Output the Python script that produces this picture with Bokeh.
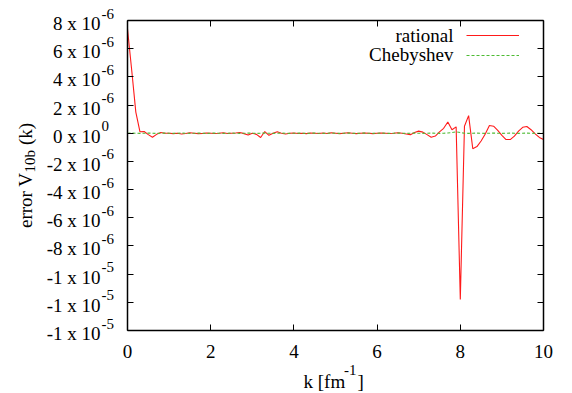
import math
from bokeh.plotting import figure
from bokeh.models import (Range1d, LinearAxis, FixedTicker, Label, Legend,
                          LegendItem, ColumnDataSource)
from bokeh.embed import file_html
from bokeh.resources import INLINE

# ---------------- data ----------------
k = [0.0, 0.1, 0.2, 0.3, 0.4, 0.5, 0.6, 0.7, 0.8, 0.9,
     1.0, 1.1, 1.2, 1.3, 1.4, 1.5, 1.6, 1.7, 1.8, 1.9,
     2.0, 2.1, 2.2, 2.3, 2.4, 2.5, 2.6, 2.7, 2.8, 2.9,
     3.0, 3.1, 3.2, 3.3, 3.4, 3.5, 3.6, 3.7, 3.8, 3.9,
     4.0, 4.1, 4.2, 4.3, 4.4, 4.5, 4.6, 4.7, 4.8, 4.9,
     5.0, 5.1, 5.2, 5.3, 5.4, 5.5, 5.6, 5.7, 5.8, 5.9,
     6.0, 6.1, 6.2, 6.3, 6.4, 6.5, 6.6, 6.7, 6.8, 6.9,
     7.0, 7.1, 7.2, 7.3, 7.4, 7.5, 7.6, 7.7, 7.8, 7.9,
     8.0, 8.1, 8.2, 8.3, 8.4, 8.5, 8.6, 8.7, 8.8, 8.9,
     9.0, 9.1, 9.2, 9.3, 9.4, 9.5, 9.6, 9.7, 9.8, 9.9,
     10.0]

# error values in units of 1e-6
rational_e6 = [7.4, 4.5, 1.5, 0.1, 0.12, -0.1, -0.28, -0.08, 0.05, 0.0,
               0.0, -0.03, 0.0, -0.05, -0.02, 0.03, 0.0, -0.03, -0.02, 0.02,
               0.0, -0.02, 0.0, 0.03, -0.02, 0.0, 0.02, 0.05, -0.03, -0.12,
               0.0, -0.08, -0.3, 0.12, -0.15, 0.0, 0.1, 0.0, -0.05, 0.0,
               0.02, -0.02, 0.0, -0.03, 0.02, 0.0, -0.02, 0.02, -0.02, 0.03,
               0.0, -0.03, 0.0, 0.03, 0.0, -0.03, 0.0, 0.02, 0.0, -0.03,
               0.0, 0.02, 0.0, -0.02, 0.0, 0.03, 0.0, -0.05, -0.1, 0.05,
               0.15, 0.08, -0.1, -0.28, -0.2, 0.1, 0.35, 0.8, 0.25, 0.45,
               -11.8, 0.5, 1.25, -1.1, -0.95, -0.55, -0.05, 0.55, 0.5, 0.2,
               -0.15, -0.45, -0.45, -0.2, 0.15, 0.42, 0.48, 0.25, -0.05, -0.3,
               -0.45]

chebyshev_e6 = [0.0, 0.01, 0.0, -0.01, 0.0, 0.01, 0.0, -0.01, 0.0, 0.01,
                0.0, -0.01, 0.0, 0.01, 0.0, -0.01, 0.0, 0.01, 0.0, -0.01,
                0.0, 0.01, 0.0, -0.01, 0.0, 0.01, 0.0, -0.01, 0.0, 0.01,
                0.0, -0.01, 0.0, 0.01, 0.0, -0.01, 0.0, 0.01, 0.0, -0.01,
                0.0, 0.01, 0.0, -0.01, 0.0, 0.01, 0.0, -0.01, 0.0, 0.01,
                0.0, -0.01, 0.0, 0.01, 0.0, -0.01, 0.0, 0.01, 0.0, -0.01,
                0.0, 0.01, 0.0, -0.01, 0.0, 0.01, 0.0, -0.01, 0.0, 0.01,
                0.0, -0.01, 0.0, 0.01, 0.0, -0.01, 0.0, 0.02, 0.05, 0.1,
                0.05, 0.0, -0.01, 0.0, 0.01, 0.0, -0.01, 0.0, 0.01, 0.0,
                -0.01, 0.0, 0.01, 0.0, -0.01, 0.0, 0.01, 0.0, -0.01, 0.0,
                0.0]

x_ticks = [0, 2, 4, 6, 8, 10]
x_tick_labels = ["0", "2", "4", "6", "8", "10"]
y_ticks = [8e-6, 6e-6, 4e-6, 2e-6, 0.0, -2e-6, -4e-6, -6e-6, -8e-6,
           -1e-5, -1.2e-5, -1.4e-5]
y_tick_mant = ["8 x 10", "6 x 10", "4 x 10", "2 x 10", "0 x 10", "-2 x 10",
               "-4 x 10", "-6 x 10", "-8 x 10", "-1 x 10", "-1 x 10", "-1 x 10"]
y_tick_exp = ["-6", "-6", "-6", "-6", "0", "-6", "-6", "-6", "-6",
              "-5", "-5", "-5"]

series_names = ["rational", "Chebyshev"]

# ---------------- layout ----------------
W, H = 572, 393
FL, FR, FT, FB = 127, 543, 20, 330   # plot box edges in pixels
XMIN, XMAX = 0.0, 10.0
YMIN, YMAX = -1.4e-5, 8e-6
FONT = "Liberation Serif"
BIG, SMALL = "19px", "15px"
FIX = 7   # correction of the drawn baseline, pixels

# the frame covers the whole canvas; ranges are widened so that the
# data box [XMIN, XMAX] x [YMIN, YMAX] lands on the plot box above
ppx = (FR - FL) / (XMAX - XMIN)
ppy = (FB - FT) / (YMAX - YMIN)
x_range = Range1d(XMIN - FL / ppx, XMAX + (W - FR) / ppx)
y_range = Range1d(YMIN - (H - FB) / ppy, YMAX + FT / ppy)

src = ColumnDataSource(dict(
    k=k,
    rational=[v * 1e-6 for v in rational_e6],
    cheb=[v * 1e-6 for v in chebyshev_e6],
))

p = figure(width=W, height=H, output_backend="svg", toolbar_location=None,
           x_range=x_range, y_range=y_range,
           x_axis_location=None, y_axis_location=None, min_border=0,
           min_border_left=0, min_border_right=0, min_border_top=0,
           min_border_bottom=0)
p.grid.visible = False
p.outline_line_color = None
p.background_fill_color = "white"
p.border_fill_color = "white"


def box_axis(ticks, bounds, loc, place):
    ax = LinearAxis(fixed_location=loc, bounds=bounds,
                    ticker=FixedTicker(ticks=ticks))
    ax.major_tick_in = 6
    ax.major_tick_out = 0
    ax.minor_tick_in = 0
    ax.minor_tick_out = 0
    ax.axis_line_color = "black"
    ax.axis_line_width = 1.5
    ax.major_tick_line_color = "black"
    ax.major_tick_line_width = 1
    ax.major_label_text_color = None
    ax.major_label_text_font_size = "0px"
    ax.major_label_standoff = 0
    p.add_layout(ax, place)
    return ax


box_axis(x_ticks, (XMIN, XMAX), YMIN, "below")
box_axis(x_ticks, (XMIN, XMAX), YMAX, "above")
box_axis(y_ticks, (YMIN, YMAX), XMIN, "left")
box_axis(y_ticks, (YMIN, YMAX), XMAX, "right")

r1 = p.line("k", "rational", source=src, line_color="#ff1a1a", line_width=1.1)
r2 = p.line("k", "cheb", source=src, line_color="#4dbb33", line_width=1.1,
            line_dash="3 2")

# legend keys (texts drawn separately, to the left of the keys)
legend = Legend(items=[LegendItem(label="", renderers=[r1]),
                       LegendItem(label="", renderers=[r2])],
                location=(466, H - 25 - 40),
                glyph_width=53, glyph_height=20, label_width=0,
                label_height=0, label_standoff=0, spacing=0, padding=0,
                margin=0, border_line_color=None, background_fill_alpha=0,
                label_text_font_size="1px")
p.add_layout(legend)


def dlab(text, x, y, dx, dy, size=BIG, align="left"):
    # label anchored at a data point, shifted by pixels (dy > 0 is up)
    p.add_layout(Label(x=x, y=y, x_offset=dx, y_offset=dy + FIX, text=text,
                       text_font=FONT, text_font_size=size,
                       text_color="black", text_align=align,
                       text_baseline="alphabetic"))


def clab(text, px, py, size=BIG, align="left", angle=0.0):
    # label at canvas pixels (from the top-left corner)
    if angle:
        px = px - FIX
    else:
        py = py - FIX
    p.add_layout(Label(x=px, y=py, x_units="canvas", y_units="canvas",
                       text=text, text_font=FONT, text_font_size=size,
                       text_color="black", text_align=align,
                       text_baseline="alphabetic", angle=angle))


# x tick labels
for t, s in zip(x_ticks, x_tick_labels):
    dlab(s, t, YMIN, 0, -28, align="center")

# y tick labels: mantissa and raised exponent
for v, m, e in zip(y_ticks, y_tick_mant, y_tick_exp):
    dlab(m, XMIN, v, -27, -10, align="right")
    dlab(e, XMIN, v, -26, 0, size=SMALL, align="left")

# legend texts
clab(series_names[0], 453, 41.5, align="right")
clab(series_names[1], 453, 61, align="right")

# x axis title: k [fm^-1]
clab("k [fm", 303, 388)
clab("-1", 343.5, 376, size=SMALL)
clab("]", 357, 388)

# y axis title: error V_10b (k), rotated
clab("error V", 31.5, 227.5, angle=math.pi / 2)
clab("10b", 36.5, 172.1, size=SMALL, angle=math.pi / 2)
clab("(k)", 31.5, 144.5, angle=math.pi / 2)

open("out.html", "w").write(file_html(p, INLINE))
